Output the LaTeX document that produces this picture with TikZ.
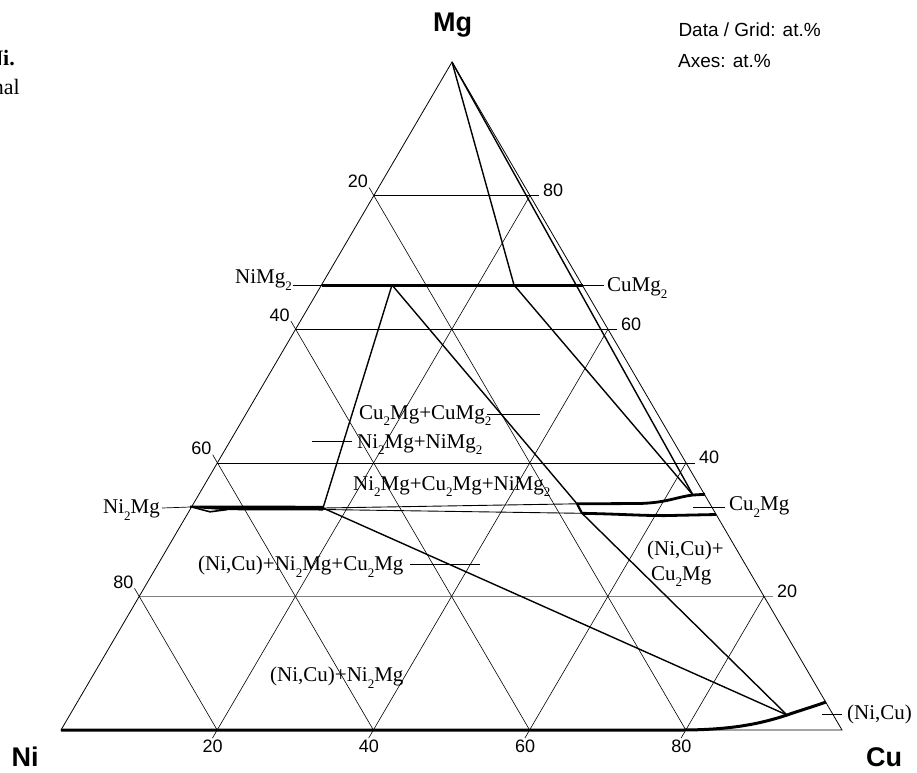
\documentclass[tikz,border=0pt]{standalone}
\usepackage{fontspec}
\setmainfont{Liberation Serif}
\setsansfont{Liberation Sans}
\newcommand\lsub[1]{\raisebox{-6.5pt}{\fontsize{13}{14}\selectfont #1}}
\begin{document}
\begin{tikzpicture}[x=1pt,y=-1pt,
  gridln/.style={line width=0.6pt},
  edge/.style={line width=0.8pt},
  tie/.style={line width=1.4pt},
  thintie/.style={line width=0.9pt},
  phase/.style={line width=3pt},
  leader/.style={line width=0.7pt},
  lbl/.style={font=\fontsize{21}{22}\selectfont, inner sep=0pt},
  ticklbl/.style={font=\sffamily\fontsize{18}{18}\selectfont, inner sep=0pt},
  cornerlbl/.style={font=\sffamily\bfseries\fontsize{27}{28}\selectfont, inner sep=0pt},
  info/.style={font=\sffamily\fontsize{19}{20}\selectfont, inner sep=0pt},
  capt/.style={font=\fontsize{22}{24}\selectfont, inner sep=0pt}]
\useasboundingbox (0,0) rectangle (917,772);
% corners
\coordinate (Ni) at (61,730);
\coordinate (Cu) at (842,730);
\coordinate (Mg) at (452,62);
% grid: Mg = const (horizontal)
\foreach \k/\t in {0.4/40,0.6/60,0.8/80} {
  \draw[gridln] ({61+391*\k},{730-668*\k}) -- ({851-390*\k},{730-668*\k});
}
\draw[gridln,draw=gray] ({61+391*0.2},{730-668*0.2}) -- ({851-390*0.2},{730-668*0.2});
\foreach \k/\t in {0.2/20,0.4/40,0.6/60,0.8/80} {
  \node[ticklbl,anchor=south west] (r\t) at ({855-390*\k},{731.5-668*\k}) {\t};
  % Ni = const (parallel to right edge)
  \draw[gridln] ({447.3-391*\k},{53.9+668*\k}) -- ({842-781*\k},730);
  \node[ticklbl,anchor=south east] (l\t) at ({446.3-391*\k},{54.4+668*\k}) {\t};
  % Cu = const (parallel to left edge)
  \draw[gridln] ({56.25+781*\k},738.1) -- ({452+390*\k},{62+668*\k});
  \node[ticklbl,anchor=north] (b\t) at ({56.5+781*\k},740) {\t};
}
% triangle
\draw[edge] (Ni) -- (Cu) -- (Mg) -- cycle;
% key points
\coordinate (P) at (322,285);
\coordinate (Q) at (583,285);
\coordinate (A) at (514,285);
\coordinate (B) at (392,285);
\coordinate (C) at (693,495);
\coordinate (Cp) at (705,494.3);
\coordinate (D) at (577,503.8);
\coordinate (Dp) at (582,513.3);
\coordinate (E) at (716,514.5);
\coordinate (F) at (323,508);
\coordinate (G) at (190,507);
\coordinate (H) at (787,715);
\coordinate (Hp) at (826,702);
% tie lines
\draw[tie] (Mg) -- (A);
\draw[tie] (Mg) -- (C);
\draw[tie] (A) -- (C);
\draw[tie] (B) -- (F);
\draw[tie] (B) -- (D);
\draw[tie] (Dp) -- (H);
\draw[tie] (F) -- (H);
\draw[thintie] (F) -- (D);
\draw[thintie] (323,509.5) -- (Dp);
% phases
\draw[phase] (P) -- (Q);
\fill (190,505.5) -- (323,505.8) -- (323,510.5) -- (226,510.2) -- (190,507.8) -- cycle;
\draw[line width=1.6pt] (192,507) -- (210,511.8) -- (227,509.6);
\draw[phase,line width=2.8pt] (D) -- (640,503.5) .. controls (668,502.5) and (676,497) .. (C) -- (Cp);
\draw[phase,line width=2.8pt] (Dp) .. controls (620,514) and (640,515.6) .. (665,515.6) -- (E);
\draw[line width=2.2pt] (D) -- (Dp);
\draw[phase] (Ni) -- (680,730) .. controls (730,730) and (760,724) .. (H) .. controls (803,709.5) and (815,706) .. (Hp);
% labels and leaders
\node[lbl,anchor=base east] (tNiMg2) at (292,283.5) {NiMg\lsub{2}};
\draw[leader] (293,285) -- (P);
\node[lbl,anchor=base west] (tCuMg2) at (607,291.7) {CuMg\lsub{2}};
\draw[leader] (Q) -- (604,285);
\node[lbl,anchor=base west] (tA) at (359,419.3) {Cu\lsub{2}Mg+CuMg\lsub{2}};
\draw[leader] (487,414) -- (540,414);
\node[lbl,anchor=base west] (tB) at (357,448.3) {Ni\lsub{2}Mg+NiMg\lsub{2}};
\draw[leader] (312,441) -- (352,441);
\node[lbl,anchor=base west] (tC) at (353,490) {Ni\lsub{2}Mg+Cu\lsub{2}Mg+NiMg\lsub{2}};
\node[lbl,anchor=base east] (tNi2Mg) at (160,513.5) {Ni\lsub{2}Mg};
\draw[leader] (162,508) -- (G);
\node[lbl,anchor=base west] (tCu2Mg) at (729,510.5) {Cu\lsub{2}Mg};
\draw[leader] (693,507) -- (725,507);
\node[lbl,anchor=base west] (tD) at (198,570.7) {(Ni,Cu)+Ni\lsub{2}Mg+Cu\lsub{2}Mg};
\draw[leader] (410,564) -- (480,564);
\node[lbl,anchor=base west] (tE1) at (647,555) {(Ni,Cu)+};
\node[lbl,anchor=base west] (tE2) at (651,580) {Cu\lsub{2}Mg};
\node[lbl,anchor=base west] (tF) at (270,681.5) {(Ni,Cu)+Ni\lsub{2}Mg};
\node[lbl,anchor=base west] (tNiCu) at (847,719.5) {(Ni,Cu)};
\draw[leader] (822,714) -- (842,714);
% corner labels
\node[cornerlbl,anchor=base west] (lMg) at (433,31.7) {Mg};
\node[cornerlbl,anchor=base west] (lNi) at (11.5,766.7) {Ni};
\node[cornerlbl,anchor=base west] (lCu) at (866,766.7) {Cu};
% info
\node[info,anchor=base west] (i1) at (678.3,36.7) {Data / Grid: at.\%};
\node[info,anchor=base west] (i2) at (678,67.7) {Axes: at.\%};
% cut caption fragments
\node[capt,font=\fontsize{22}{24}\selectfont\bfseries,anchor=base east] (c1) at (15,65) {Ni.};
\node[capt,anchor=base east] (c2) at (20,94.5) {nal};
\end{tikzpicture}
\end{document}
